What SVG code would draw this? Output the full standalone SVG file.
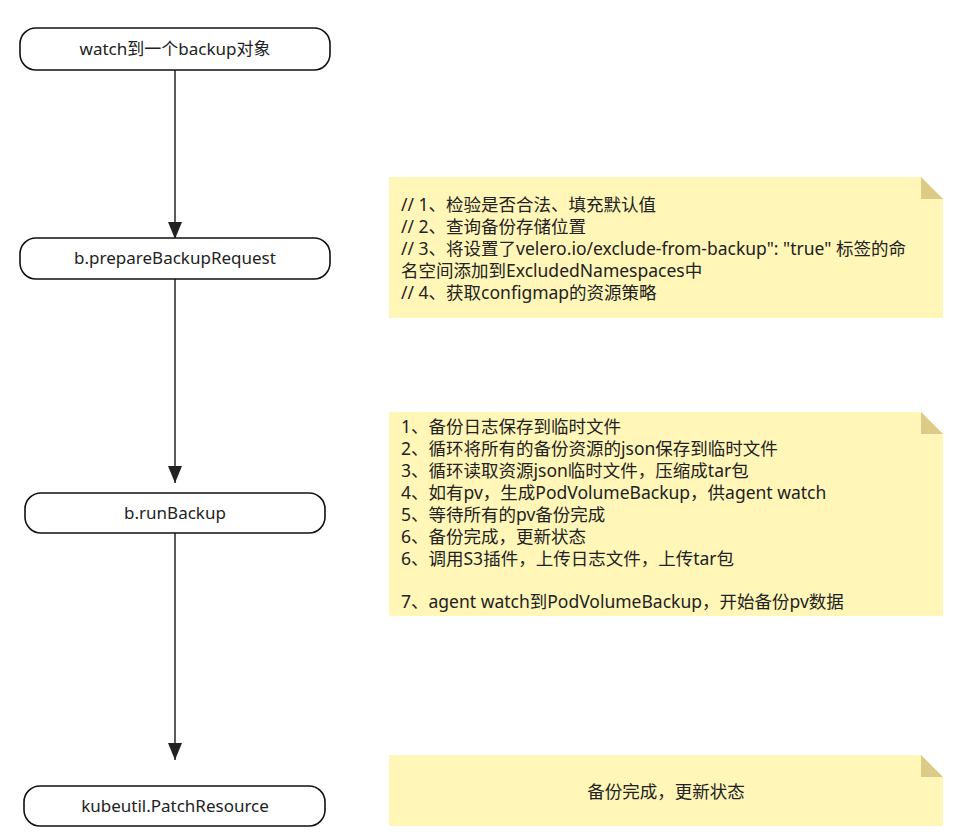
<svg xmlns="http://www.w3.org/2000/svg" width="963" height="838" viewBox="0 0 963 838">
<style>
.node rect{fill:#fff;stroke:#111;stroke-width:1.6}
.node text{font-family:"Noto Sans","Noto Sans CJK SC",sans-serif;font-size:17px;fill:#222;text-anchor:middle}
.note .body{fill:#fff6b8}
.note .fold{fill:#dccb86}
.note text{font-family:"Noto Sans","Noto Sans CJK SC",sans-serif;font-size:17.5px;fill:#222}
.edge{stroke:#333;stroke-width:1.6;fill:none}
</style>
<defs>
<marker id="arr" markerUnits="userSpaceOnUse" markerWidth="18" markerHeight="16" refX="17" refY="7" orient="auto">
<path d="M0,0 L17,7 L0,14 Z" fill="#222"/>
</marker>
</defs>
<rect width="963" height="838" fill="#fff"/>
<g id="connectors">
<line class="edge" x1="175" y1="70" x2="175" y2="239" marker-end="url(#arr)"/>
<line class="edge" x1="175" y1="279" x2="175" y2="483" marker-end="url(#arr)"/>
<line class="edge" x1="175" y1="533" x2="175" y2="760" marker-end="url(#arr)"/>
</g>
<g id="n1" class="node">
<rect x="20" y="28" width="310" height="42" rx="16"/>
<text x="175" y="55">watch到一个backup对象</text>
</g>
<g id="n2" class="node">
<rect x="20" y="238" width="310" height="41" rx="16"/>
<text x="175" y="264">b.prepareBackupRequest</text>
</g>
<g id="n3" class="node">
<rect x="25" y="493" width="300" height="40" rx="16"/>
<text x="175" y="519">b.runBackup</text>
</g>
<g id="n4" class="node">
<rect x="24" y="786" width="301" height="40" rx="16"/>
<text x="175" y="812">kubeutil.PatchResource</text>
</g>
<g id="note1" class="note">
<path class="body" d="M389,177 H921 L943,199 V318 H389 Z"/>
<path class="fold" d="M921,177 L943,199 H921 Z"/>
<text x="401" y="211">// 1、检验是否合法、填充默认值</text>
<text x="401" y="233">// 2、查询备份存储位置</text>
<text x="401" y="255">// 3、将设置了velero.io/exclude-from-backup": "true" 标签的命</text>
<text x="401" y="277">名空间添加到ExcludedNamespaces中</text>
<text x="401" y="299">// 4、获取configmap的资源策略</text>
</g>
<g id="note2" class="note">
<path class="body" d="M389,412 H921 L943,434 V616 H389 Z"/>
<path class="fold" d="M921,412 L943,434 H921 Z"/>
<text x="401" y="433">1、备份日志保存到临时文件</text>
<text x="401" y="455">2、循环将所有的备份资源的json保存到临时文件</text>
<text x="401" y="477">3、循环读取资源json临时文件，压缩成tar包</text>
<text x="401" y="499">4、如有pv，生成PodVolumeBackup，供agent watch</text>
<text x="401" y="521">5、等待所有的pv备份完成</text>
<text x="401" y="543">6、备份完成，更新状态</text>
<text x="401" y="565">6、调用S3插件，上传日志文件，上传tar包</text>
<text x="401" y="608">7、agent watch到PodVolumeBackup，开始备份pv数据</text>
</g>
<g id="note3" class="note">
<path class="body" d="M389,755 H921 L943,777 V826 H389 Z"/>
<path class="fold" d="M921,755 L943,777 H921 Z"/>
<text x="666" y="798" text-anchor="middle">备份完成，更新状态</text>
</g>
</svg>
